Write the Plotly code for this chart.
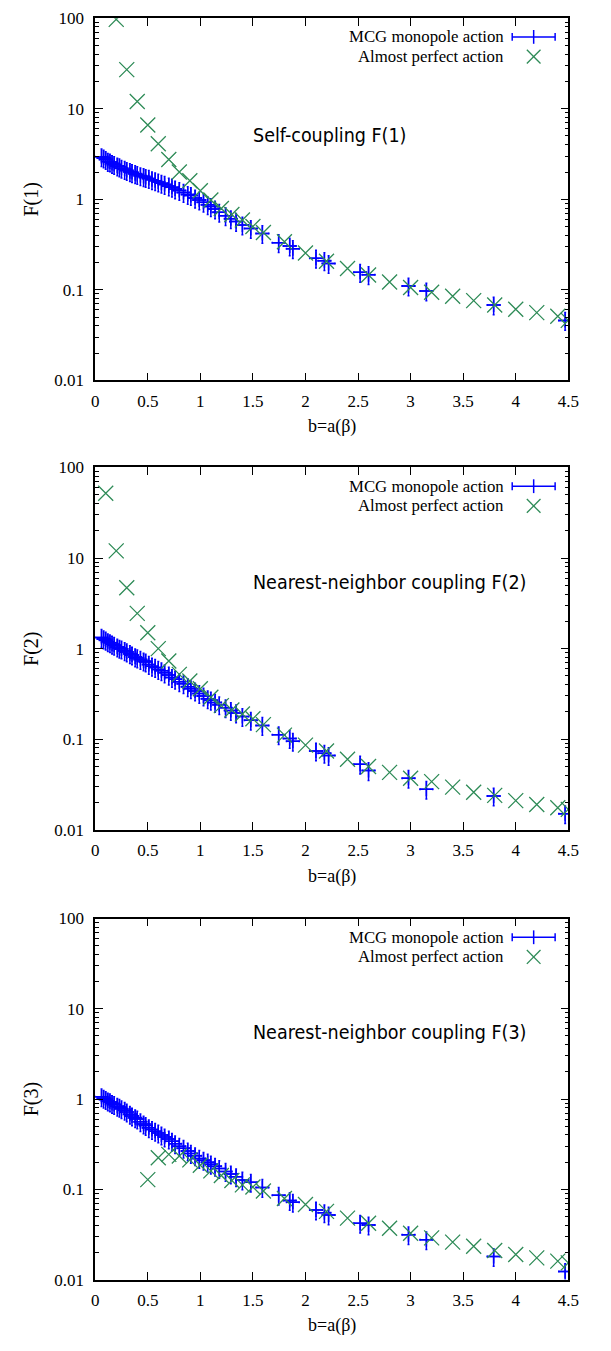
import plotly.graph_objects as go

# ---------------- data ----------------
# MCG monopole action (blue, xy error bars) -- shared b values
mcg_b = [0.06, 0.08, 0.10, 0.12, 0.14, 0.16, 0.18, 0.21, 0.23, 0.25, 0.28, 0.30,
         0.33, 0.35, 0.38, 0.40, 0.43, 0.46, 0.48, 0.51, 0.54, 0.57, 0.60, 0.63,
         0.66, 0.70, 0.73, 0.76, 0.80, 0.84, 0.88, 0.91, 0.95, 0.99, 1.03, 1.07,
         1.10, 1.14, 1.18, 1.24, 1.29, 1.34, 1.40,
         1.48, 1.59, 1.745, 1.85, 1.88, 2.10, 2.18, 2.22, 2.52, 2.60, 2.98, 3.15, 3.79, 4.47]

mcg_f1 = [2.95, 2.85, 2.75, 2.62, 2.58, 2.48, 2.42, 2.33, 2.28, 2.20, 2.14, 2.08,
          2.02, 1.97, 1.92, 1.88, 1.82, 1.78, 1.74, 1.70, 1.64, 1.60, 1.55, 1.50,
          1.46, 1.40, 1.36, 1.30, 1.25, 1.19, 1.13, 1.10, 1.03, 0.98, 0.93, 0.87,
          0.83, 0.78, 0.72, 0.66, 0.61, 0.57, 0.52,
          0.476, 0.418, 0.332, 0.305, 0.285, 0.224, 0.21, 0.195, 0.156, 0.147, 0.11, 0.097, 0.068, 0.046]

mcg_f2 = [1.33, 1.28, 1.24, 1.19, 1.16, 1.12, 1.09, 1.04, 1.01, 0.99, 0.95, 0.92,
          0.88, 0.85, 0.81, 0.79, 0.76, 0.73, 0.71, 0.67, 0.64, 0.62, 0.59, 0.57,
          0.54, 0.51, 0.48, 0.46, 0.43, 0.41, 0.38, 0.36, 0.34, 0.32, 0.30, 0.28,
          0.27, 0.255, 0.24, 0.222, 0.207, 0.195, 0.178,
          0.162, 0.142, 0.112, 0.102, 0.095, 0.074, 0.070, 0.066, 0.053, 0.045, 0.037, 0.028, 0.0236, 0.015]

mcg_f3 = [1.06, 1.02, 0.99, 0.95, 0.93, 0.89, 0.87, 0.83, 0.81, 0.78, 0.75, 0.72,
          0.68, 0.65, 0.62, 0.60, 0.56, 0.53, 0.51, 0.48, 0.46, 0.44, 0.42, 0.40,
          0.38, 0.36, 0.34, 0.32, 0.30, 0.285, 0.265, 0.25, 0.235, 0.22, 0.21, 0.20,
          0.19, 0.18, 0.17, 0.158, 0.148, 0.138, 0.127,
          0.12, 0.105, 0.0857, 0.075, 0.072, 0.0589, 0.055, 0.052, 0.042, 0.0403, 0.0313, 0.0276, 0.018, 0.0123]

# Almost perfect action (green x)
ap_b1 = [0.2, 0.3, 0.4, 0.5, 0.6, 0.7, 0.8, 0.9, 1.0, 1.1, 1.2, 1.3, 1.4, 1.5, 1.6,
         1.8, 2.0, 2.2, 2.4, 2.6, 2.8, 3.0, 3.2, 3.4, 3.6, 3.8, 4.0, 4.2, 4.4, 4.5]
ap_f1 = [97, 27, 12, 6.6, 4.1, 2.75, 2.0, 1.6, 1.24, 0.98, 0.79, 0.68, 0.59, 0.50, 0.43,
         0.34, 0.255, 0.207, 0.172, 0.146, 0.122, 0.106, 0.094, 0.085, 0.076, 0.068,
         0.061, 0.056, 0.051, 0.046]

ap_b2 = [0.1, 0.2, 0.3, 0.4, 0.5, 0.6, 0.7, 0.8, 0.9, 1.0, 1.1, 1.2, 1.3, 1.4, 1.5, 1.6,
         1.8, 2.0, 2.2, 2.4, 2.6, 2.8, 3.0, 3.2, 3.4, 3.6, 3.8, 4.0, 4.2, 4.4, 4.5]
ap_f2 = [52, 12, 4.7, 2.45, 1.5, 1.0, 0.73, 0.52, 0.44, 0.36, 0.29, 0.235, 0.21, 0.19,
         0.168, 0.145, 0.111, 0.086, 0.074, 0.060, 0.050, 0.043, 0.037, 0.034, 0.0296,
         0.026, 0.024, 0.021, 0.019, 0.0175, 0.0168]

ap_b3 = [0.5, 0.6, 0.7, 0.8, 0.9, 1.0, 1.1, 1.2, 1.3, 1.4, 1.5, 1.6,
         1.8, 2.0, 2.2, 2.4, 2.6, 2.8, 3.0, 3.2, 3.4, 3.6, 3.8, 4.0, 4.2, 4.4, 4.5]
ap_f3 = [0.128, 0.224, 0.244, 0.234, 0.212, 0.185, 0.16, 0.142, 0.125, 0.112, 0.106,
         0.096, 0.079, 0.068, 0.057, 0.048, 0.042, 0.037, 0.0326, 0.029, 0.026, 0.0234,
         0.021, 0.019, 0.0174, 0.016, 0.0153]

x_tickvals = [0, 0.5, 1, 1.5, 2, 2.5, 3, 3.5, 4, 4.5]
x_ticktext = ["0", "0.5", "1", "1.5", "2", "2.5", "3", "3.5", "4", "4.5"]
y_tickvals = [0.01, 0.1, 1, 10, 100]
y_ticktext = ["0.01", "0.1", "1", "10", "100"]
y_minor_vals = [0.02, 0.03, 0.04, 0.05, 0.06, 0.07, 0.08, 0.09,
                0.2, 0.3, 0.4, 0.5, 0.6, 0.7, 0.8, 0.9,
                2, 3, 4, 5, 6, 7, 8, 9,
                20, 30, 40, 50, 60, 70, 80, 90]

panel_titles = ["Self-coupling F(1)", "Nearest-neighbor coupling F(2)", "Nearest-neighbor coupling F(3)"]
y_titles = ["F(1)", "F(2)", "F(3)"]
x_title = "b=a(β)"
legend_names = ["MCG monopole action", "Almost perfect action"]

# ---------------- layout ----------------
W, H = 611, 1351
BLUE = "#0000ff"
GREEN = "#2e8b57"
SERIF = "Liberation Serif"

x_left, x_right = 93.5, 578.5          # page pixels
panels_px = [(9.3, 376.7), (465, 832.5), (922.5, 1288.7)]
title_y_px = [128, 582, 1038]


def fx(v):
    return v / W


def fy(v):
    return 1 - v / H


fig = go.Figure()

mcg_sets = [mcg_f1, mcg_f2, mcg_f3]
ap_sets = [(ap_b1, ap_f1), (ap_b2, ap_f2), (ap_b3, ap_f3)]

annotations = []
shapes = []

for i in range(3):
    xa = "x" if i == 0 else f"x{i+1}"
    ya = "y" if i == 0 else f"y{i+1}"
    fig.add_trace(go.Scatter(
        x=mcg_b, y=mcg_sets[i], mode="markers", xaxis=xa, yaxis=ya,
        marker=dict(symbol="cross-thin", size=10, color=BLUE,
                    line=dict(color=BLUE, width=1.5)),
        error_x=dict(type="constant", value=0.06, color=BLUE, thickness=1.5, width=1),
        error_y=dict(type="percent", value=22, color=BLUE, thickness=1.5, width=1),
        showlegend=False, name=legend_names[0]))
    bx, by = ap_sets[i]
    fig.add_trace(go.Scatter(
        x=bx, y=by, mode="markers", xaxis=xa, yaxis=ya,
        marker=dict(symbol="x-thin", size=15, color=GREEN,
                    line=dict(color=GREEN, width=1.3)),
        showlegend=False, name=legend_names[1]))

    top, bot = panels_px[i]
    axis_common = dict(showline=True, linecolor="black", linewidth=1.5, mirror="allticks",
                       ticks="inside", ticklen=8, tickwidth=1.2, tickcolor="black",
                       showgrid=False, zeroline=False,
                       tickfont=dict(family=SERIF, size=17, color="black"))
    xkey = "xaxis" if i == 0 else f"xaxis{i+1}"
    ykey = "yaxis" if i == 0 else f"yaxis{i+1}"
    fig.update_layout({
        xkey: dict(axis_common, domain=[fx(x_left), fx(x_right)], range=[0, 4.5], anchor=ya,
                   tickvals=x_tickvals, ticktext=x_ticktext, ticklabelstandoff=4),
        ykey: dict(axis_common, domain=[fy(bot), fy(top)], type="log", range=[-2, 2], anchor=xa,
                   tickvals=y_tickvals, ticktext=y_ticktext, ticklabelstandoff=6,
                   minor=dict(ticks="inside", ticklen=4, tickwidth=1, tickcolor="black",
                              tickvals=y_minor_vals, showgrid=False)),
    })

    # panel label
    annotations.append(dict(xref="paper", yref="paper", x=fx(253), y=fy(title_y_px[i]),
                            text=panel_titles[i], showarrow=False, xanchor="left", yanchor="middle",
                            font=dict(family="DejaVu Sans Condensed, DejaVu Sans", size=19.5, color="black")))
    # y title
    annotations.append(dict(xref="paper", yref="paper", x=fx(28), y=fy((top + bot) / 2),
                            text=y_titles[i], showarrow=False, textangle=-90,
                            xanchor="center", yanchor="middle",
                            font=dict(family=SERIF, size=20, color="black")))
    # x title
    annotations.append(dict(xref="paper", yref="paper", x=fx((x_left + x_right) / 2), y=fy(bot + 47),
                            text=x_title, showarrow=False, xanchor="center", yanchor="middle",
                            font=dict(family=SERIF, size=18, color="black")))
    # legend texts
    for k, name in enumerate(legend_names):
        annotations.append(dict(xref="paper", yref="paper", x=fx(515), y=fy(top + 19 + 20 * k),
                                text=name, showarrow=False, xanchor="right", yanchor="middle",
                                font=dict(family=SERIF, size=16.8, color="black")))
    # legend samples
    ly = top + 19
    shapes.append(dict(type="line", xref="paper", yref="paper", x0=fx(521), x1=fx(565),
                       y0=fy(ly), y1=fy(ly), line=dict(color=BLUE, width=1.5)))
    for xx, hh in [(521, 4), (565, 4), (543, 7)]:
        shapes.append(dict(type="line", xref="paper", yref="paper", x0=fx(xx), x1=fx(xx),
                           y0=fy(ly - hh), y1=fy(ly + hh), line=dict(color=BLUE, width=1.5)))
    ly2 = top + 39
    for sgn in (1, -1):
        shapes.append(dict(type="line", xref="paper", yref="paper",
                           x0=fx(543 - 7), x1=fx(543 + 7),
                           y0=fy(ly2 - 7 * sgn), y1=fy(ly2 + 7 * sgn),
                           line=dict(color=GREEN, width=1.3)))

fig.update_layout(width=W, height=H, margin=dict(l=0, r=0, t=0, b=0),
                  paper_bgcolor="white", plot_bgcolor="white",
                  annotations=annotations, shapes=shapes, showlegend=False)

# remove the default 8px body margin so the figure sits at the page origin
fig.write_html("out.html",
               post_script="document.body.style.margin='0';document.body.style.overflow='hidden';")
